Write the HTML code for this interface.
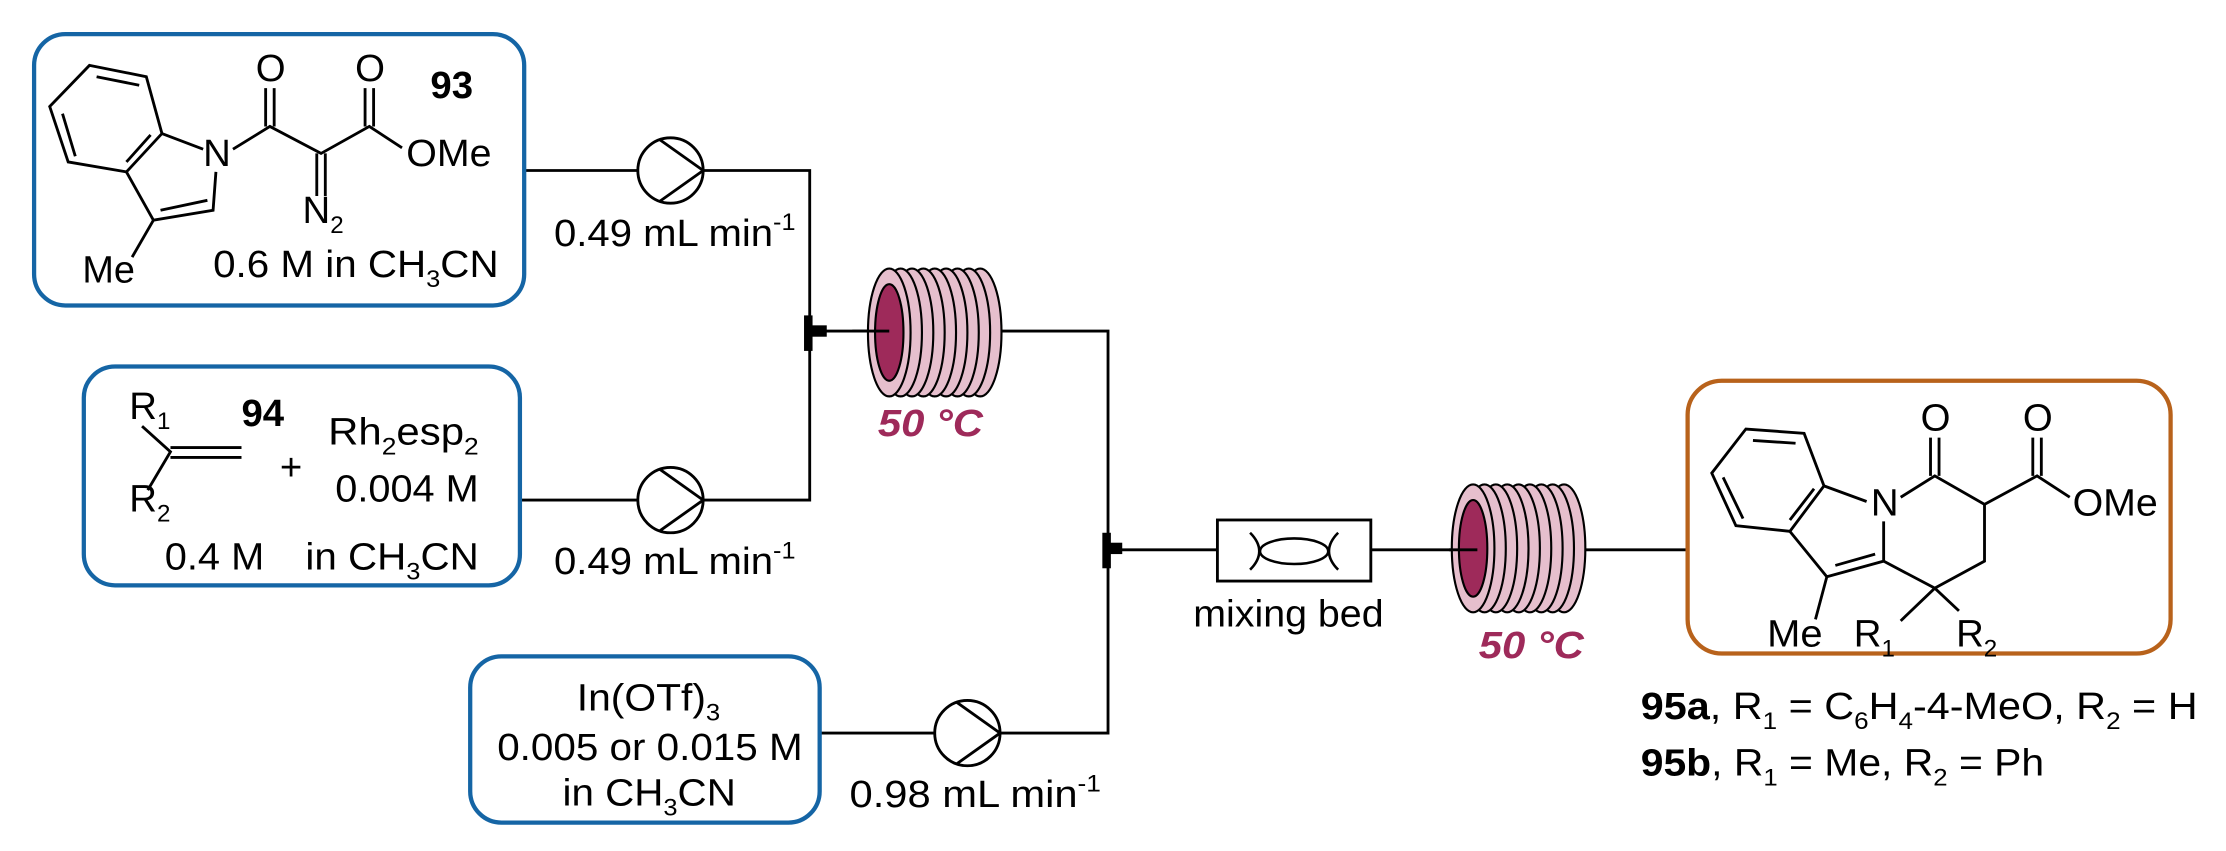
<!DOCTYPE html>
<html><head><meta charset="utf-8"><style>
html,body{margin:0;padding:0;background:#fff}
svg{display:block}
text{font-family:"Liberation Sans",Arial,sans-serif;fill:#000}
</style></head><body>
<svg width="2226" height="851" viewBox="0 0 1567 599" preserveAspectRatio="none" xmlns="http://www.w3.org/2000/svg">
<defs>
<g id="pump"><circle cx="0" cy="0" r="23" fill="#fff" stroke="#000" stroke-width="2"/><path d="M-8,-22 L23,0 L-8,22" fill="none" stroke="#000" stroke-width="2"/></g>
</defs>
<g fill="none" stroke="#000" stroke-width="2">
<path d="M369,120 H449 M495,120 H570 V352 H495 M449,352 H366"/>
<path d="M570,233 H626"/>
<path d="M700,233 H780 V516 H704 M658,516 H577"/>
<path d="M780,387 H857 M965,387 H1035 M1110,387 H1188"/>
</g>
<rect x="566" y="222" width="6" height="25" fill="#000"/><rect x="570" y="229" width="12" height="8" fill="#000"/>
<rect x="776" y="375" width="6" height="25" fill="#000"/><rect x="780" y="382" width="10" height="8" fill="#000"/>
<use href="#pump" x="472" y="120"/>
<use href="#pump" x="472" y="352"/>
<use href="#pump" x="681" y="516"/>
<g fill="none" stroke-width="3">
<rect x="24" y="24" width="345" height="191" rx="22" stroke="#1565a5"/>
<rect x="59" y="258" width="307" height="154" rx="22" stroke="#1565a5"/>
<rect x="331" y="462" width="246" height="117" rx="22" stroke="#1565a5"/>
<rect x="1188" y="268" width="340" height="192" rx="24" stroke="#b8621b"/>
</g>
<g stroke="#000" stroke-width="1.5" fill="#e6bfcd">
<ellipse cx="690" cy="234" rx="15" ry="45"/><ellipse cx="682" cy="234" rx="15" ry="45"/><ellipse cx="674" cy="234" rx="15" ry="45"/><ellipse cx="666" cy="234" rx="15" ry="45"/><ellipse cx="658" cy="234" rx="15" ry="45"/><ellipse cx="650" cy="234" rx="15" ry="45"/><ellipse cx="642" cy="234" rx="15" ry="45"/><ellipse cx="634" cy="234" rx="15" ry="45"/><ellipse cx="626" cy="234" rx="15" ry="45"/>
<ellipse cx="626" cy="234" rx="10" ry="34" fill="#9e2a5a"/>
</g>
<line x1="600" y1="233" x2="626" y2="233" stroke="#000" stroke-width="2"/>
<g stroke="#000" stroke-width="1.5" fill="#e6bfcd">
<ellipse cx="1101" cy="386" rx="15" ry="45"/><ellipse cx="1093" cy="386" rx="15" ry="45"/><ellipse cx="1085" cy="386" rx="15" ry="45"/><ellipse cx="1077" cy="386" rx="15" ry="45"/><ellipse cx="1069" cy="386" rx="15" ry="45"/><ellipse cx="1061" cy="386" rx="15" ry="45"/><ellipse cx="1053" cy="386" rx="15" ry="45"/><ellipse cx="1045" cy="386" rx="15" ry="45"/><ellipse cx="1037" cy="386" rx="15" ry="45"/>
<ellipse cx="1037" cy="386" rx="10" ry="34" fill="#9e2a5a"/>
</g>
<line x1="1020" y1="387" x2="1040" y2="387" stroke="#000" stroke-width="2"/>
<rect x="857" y="366" width="108" height="43" fill="#fff" stroke="#000" stroke-width="2"/>
<g fill="none" stroke="#000" stroke-width="1.8">
<ellipse cx="911" cy="388" rx="24" ry="9"/>
<path d="M880,375 Q893,388 880,401 M942,375 Q929,388 942,401"/>
</g>
<g font-size="27">
<text x="390" y="173" textLength="170" lengthAdjust="spacingAndGlyphs">0.49 mL min<tspan font-size="17" dy="-11">-1</tspan></text>
<text x="390" y="404" textLength="170" lengthAdjust="spacingAndGlyphs">0.49 mL min<tspan font-size="17" dy="-11">-1</tspan></text>
<text x="598" y="568" textLength="177" lengthAdjust="spacingAndGlyphs">0.98 mL min<tspan font-size="17" dy="-11">-1</tspan></text>
<text x="840" y="441" textLength="134" lengthAdjust="spacingAndGlyphs">mixing bed</text>
<text x="618" y="307" textLength="74" lengthAdjust="spacingAndGlyphs" font-weight="bold" font-style="italic" style="fill:#9e2a5a">50 °C</text>
<text x="1041" y="463" textLength="74" lengthAdjust="spacingAndGlyphs" font-weight="bold" font-style="italic" style="fill:#9e2a5a">50 °C</text>
<text x="1155" y="506" textLength="392" lengthAdjust="spacingAndGlyphs"><tspan font-weight="bold">95a</tspan>, R<tspan font-size="17" dy="7">1</tspan><tspan dy="-7"> = C</tspan><tspan font-size="17" dy="7">6</tspan><tspan dy="-7">H</tspan><tspan font-size="17" dy="7">4</tspan><tspan dy="-7">-4-MeO, R</tspan><tspan font-size="17" dy="7">2</tspan><tspan dy="-7"> = H</tspan></text>
<text x="1155" y="546" textLength="284" lengthAdjust="spacingAndGlyphs"><tspan font-weight="bold">95b</tspan>, R<tspan font-size="17" dy="7">1</tspan><tspan dy="-7"> = Me, R</tspan><tspan font-size="17" dy="7">2</tspan><tspan dy="-7"> = Ph</tspan></text>
<text x="406" y="500" textLength="101" lengthAdjust="spacingAndGlyphs">In(OTf)<tspan font-size="17" dy="7">3</tspan></text>
<text x="350" y="535" textLength="215" lengthAdjust="spacingAndGlyphs">0.005 or 0.015 M</text>
<text x="396" y="567" textLength="122" lengthAdjust="spacingAndGlyphs">in CH<tspan font-size="17" dy="7">3</tspan><tspan dy="-7">CN</tspan></text>
<text x="91" y="295">R<tspan font-size="17" dy="7">1</tspan></text>
<text x="91" y="360">R<tspan font-size="17" dy="7">2</tspan></text>
<text x="170" y="300" font-weight="bold">94</text>
<text x="197" y="338">+</text>
<text x="231" y="313" textLength="106" lengthAdjust="spacingAndGlyphs">Rh<tspan font-size="17" dy="7">2</tspan><tspan dy="-7">esp</tspan><tspan font-size="17" dy="7">2</tspan></text>
<text x="236" y="353" textLength="101" lengthAdjust="spacingAndGlyphs">0.004 M</text>
<text x="116" y="401" textLength="70" lengthAdjust="spacingAndGlyphs">0.4 M</text>
<text x="215" y="401" textLength="122" lengthAdjust="spacingAndGlyphs">in CH<tspan font-size="17" dy="7">3</tspan><tspan dy="-7">CN</tspan></text>
<text x="180" y="57">O</text><text x="250" y="57">O</text>
<text x="303" y="69" font-weight="bold">93</text>
<text x="286" y="117" textLength="60" lengthAdjust="spacingAndGlyphs">OMe</text>
<text x="143" y="117">N</text>
<text x="213" y="157">N<tspan font-size="17" dy="7">2</tspan></text>
<text x="58" y="199" textLength="37" lengthAdjust="spacingAndGlyphs">Me</text>
<text x="150" y="195" textLength="201" lengthAdjust="spacingAndGlyphs">0.6 M in CH<tspan font-size="17" dy="7">3</tspan><tspan dy="-7">CN</tspan></text>
<text x="1352" y="303">O</text><text x="1424" y="303">O</text>
<text x="1317" y="363">N</text>
<text x="1459" y="363" textLength="60" lengthAdjust="spacingAndGlyphs">OMe</text>
<text x="1244" y="455" textLength="39" lengthAdjust="spacingAndGlyphs">Me</text>
<text x="1305" y="455">R<tspan font-size="17" dy="7">1</tspan></text>
<text x="1377" y="455">R<tspan font-size="17" dy="7">2</tspan></text>
</g>
<g fill="none" stroke="#000" stroke-width="2">
<path d="M63,46 L103,54 L114,94 L89,121 L48,114 L35,75 Z"/>
<path d="M68,54 L98,60 M44,80 L53,110 M89,114 L106,95"/>
<path d="M114,94 L143,105 M152,121 L150,148 L108,155 L89,121 M113,148 L146,141"/>
<path d="M108,155 L93,181"/>
<path d="M164,105 L190,89 L226,108 L260,89 L283,104"/>
<path d="M187,89 V62 M193,89 V62 M257,89 V62 M263,89 V62"/>
<path d="M223,108 V138 M229,108 V138"/>
<path d="M100,300 L120,318 L104,345 M120,315 H170 M120,322 H170"/>
<path d="M1229,302 L1270,305 L1284,342 L1260,374 L1222,370 L1205,333 Z"/>
<path d="M1234,310 L1264,312 M1213,336 L1227,365 M1277,344 L1260,366"/>
<path d="M1284,342 L1314,353 M1326,367 L1326,395 L1286,406 L1260,374 M1292,398 L1320,390"/>
<path d="M1286,406 L1278,436"/>
<path d="M1338,350 L1362,335 L1397,355 L1434,335 L1457,350"/>
<path d="M1359,335 V308 M1365,335 V308 M1431,335 V308 M1437,335 V308"/>
<path d="M1397,355 V395 L1362,414 L1326,395 M1362,414 L1338,437 M1362,414 L1379,430"/>
</g>
</svg>
</body></html>
